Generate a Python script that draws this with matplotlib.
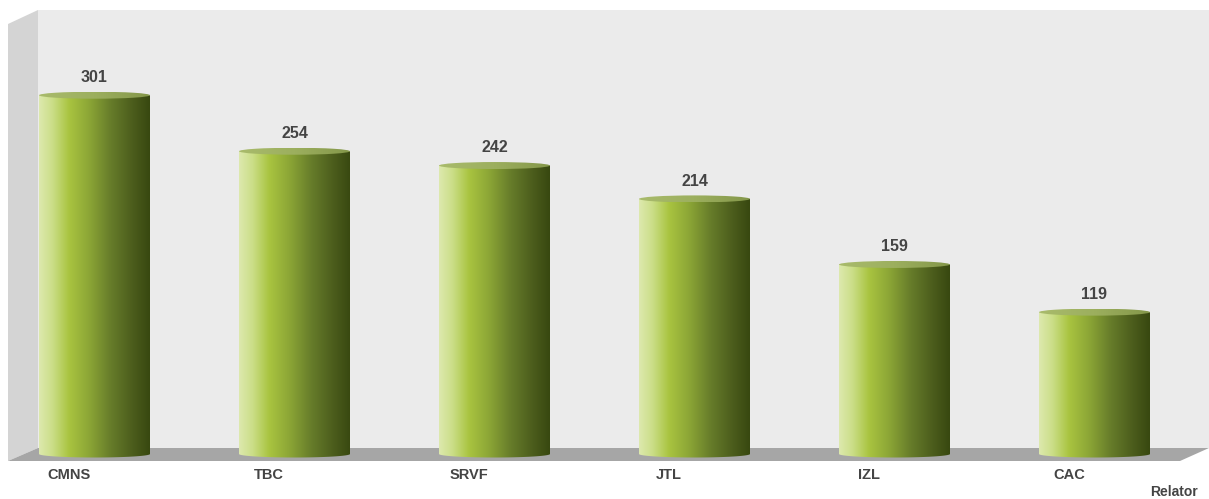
import matplotlib
matplotlib.use('Agg')
import matplotlib.pyplot as plt
import numpy as np
from matplotlib.colors import LinearSegmentedColormap
from matplotlib.patches import Ellipse, Polygon, Rectangle

# Data
relators = ['CMNS', 'TBC', 'SRVF', 'JTL', 'IZL', 'CAC']
counts = [301, 254, 242, 214, 159, 119]

# Scale of the picture: px per unit, baseline row, first bar centre, bar spacing
px_per_unit = 1.192
base_px = 454
first_px = 94.5
step_px = 200
W, H = 1209, 499

def px_x(p):
    return (p - first_px) / step_px

def px_y(p):
    return (base_px - p) / px_per_unit

bar_cmap = LinearSegmentedColormap.from_list('cyl', [
    (0.0, '#dde9ae'), (0.12, '#cbde88'), (0.27, '#a9c440'), (0.45, '#8ca636'),
    (0.65, '#667c2a'), (0.85, '#4b5c1c'), (1.0, '#384810')])
top_cmap = LinearSegmentedColormap.from_list('cyltop', ['#a9bb6c', '#9caf5e', '#84974a'])

fig = plt.figure(figsize=(W / 100, H / 100), dpi=100)
ax = fig.add_axes([0, 0, 1, 1])
ax.axis('off')

# 3D box behind the bars
ax.add_patch(Rectangle((px_x(38), px_y(448)), px_x(1209) - px_x(38), px_y(10) - px_y(448),
                       fc='#ebebeb', ec='none', zorder=1))
ax.add_patch(Polygon([(px_x(8), px_y(24)), (px_x(38), px_y(10)), (px_x(38), px_y(448)), (px_x(8), px_y(461))],
                     fc='#d4d4d4', ec='none', zorder=1))
ax.add_patch(Polygon([(px_x(38), px_y(448)), (px_x(1209), px_y(448)), (px_x(1180), px_y(461)), (px_x(8), px_y(461))],
                     fc='#a6a6a6', ec='none', zorder=2))

bar_w = 111 / step_px
ell_h = 7 / px_per_unit
grad = np.linspace(0, 1, 256).reshape(1, -1)

for i, (name, v) in enumerate(zip(relators, counts)):
    left, right = i - bar_w / 2, i + bar_w / 2
    # cylinder body, clipped to a rounded bottom
    im = ax.imshow(grad, cmap=bar_cmap, extent=(left, right, -ell_h, v), aspect='auto', zorder=3)
    t = np.linspace(np.pi, 2 * np.pi, 60)
    xs = np.r_[left, i + bar_w / 2 * np.cos(t), right]
    ys = np.r_[v, ell_h / 2 * np.sin(t), v]
    clip = Polygon(np.c_[xs, ys], transform=ax.transData, fc='none', ec='none')
    ax.add_patch(clip)
    im.set_clip_path(clip)
    # cap
    top = ax.imshow(grad, cmap=top_cmap, extent=(left, right, v - ell_h / 2, v + ell_h / 2), aspect='auto', zorder=4)
    cap = Ellipse((i, v), bar_w, ell_h, fc='none', ec='none', transform=ax.transData)
    ax.add_patch(cap)
    top.set_clip_path(cap)
    # value and category labels
    ax.text(i, v + 15, str(v), ha='center', va='center', fontsize=11.5, fontweight='bold',
            family='Liberation Sans', color='#444444', zorder=5)
    ax.text(i - 0.1275, px_y(475), name, ha='center', va='center', fontsize=10.5, fontweight='bold',
            family='Liberation Sans', color='#444444', zorder=5)

ax.set_xlim(px_x(0), px_x(W))
ax.set_ylim(px_y(H), px_y(0))

ax.text(px_x(1198), px_y(492), 'Relator', ha='right', va='center', fontsize=10, fontweight='bold',
        family='Liberation Sans', color='#444444')

fig.savefig('out.png', dpi=100, facecolor='white')
plt.close()
